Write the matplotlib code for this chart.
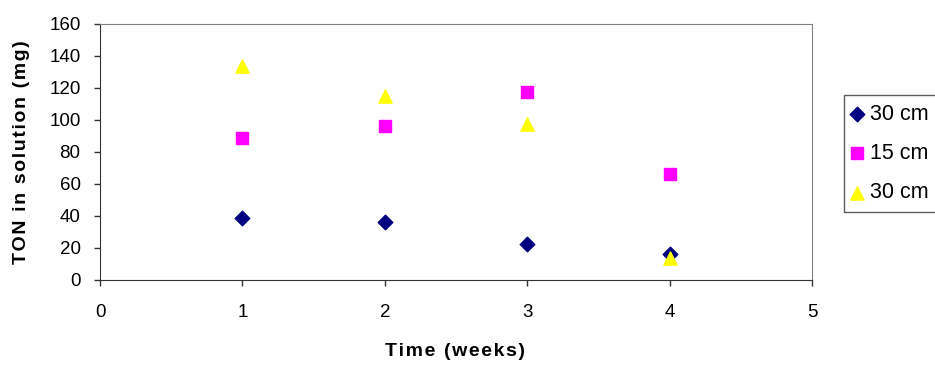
import matplotlib
matplotlib.use('Agg')
import matplotlib.pyplot as plt

plt.rcParams['font.family'] = ['Liberation Sans', 'DejaVu Sans']

#=====Data=====
weeks = [1, 2, 3, 4]
depth_30a = [39, 36, 22.5, 16]
depth_15 = [89, 96, 117.5, 66]
depth_30b = [133.5, 115, 97.5, 13.5]
labels = ['30 cm', '15 cm', '30 cm']

def spaced(s):
    # Excel-style letter spacing for axis titles
    return '\u200a'.join(s)

#=====Figure=====
fig = plt.figure(figsize=(9.35, 3.65), dpi=100)
ax = fig.add_axes([100/935, 1-280/365, 712/935, 256/365])

ax.scatter(weeks, depth_30a, marker='D', s=55, c='#000080', label=labels[0], zorder=3)
ax.scatter(weeks, depth_15, marker='s', s=75, c='#FF00FF', label=labels[1], zorder=3)
ax.scatter(weeks, depth_30b, marker='^', s=90, c='#FFFF00', label=labels[2], zorder=4)

ax.set_xlim(0, 5)
ax.set_ylim(0, 160)
ax.set_xticks(range(0, 6))
ax.set_yticks(range(0, 161, 20))
ax.tick_params(direction='out', length=4, width=1, labelsize=13.5, color='#333333')
ax.tick_params(axis='x', pad=13)
ax.tick_params(axis='y', pad=10)

for s in ['top', 'right']:
    ax.spines[s].set_color('#808080')
for s in ['left', 'bottom']:
    ax.spines[s].set_color('#333333')

ax.set_xlabel(spaced('Time (weeks)'), fontsize=14, fontweight='bold')
ax.set_ylabel(spaced('TON in solution (mg)'), fontsize=14, fontweight='bold')
ax.xaxis.set_label_coords((455-100)/712, -(352-280)/256)
ax.yaxis.set_label_coords(-(100-22)/712, 0.5)
ax.xaxis.label.set_va('center')
ax.yaxis.label.set_va('center')

leg = fig.legend(loc='upper left', bbox_to_anchor=(844/935, 1-95/365), fontsize=15.5,
                 frameon=True, fancybox=False, edgecolor='#333333', handletextpad=0.4,
                 borderpad=0.4, labelspacing=0.85, handlelength=0.4, borderaxespad=0)
leg.get_frame().set_linewidth(1)

fig.savefig('out.png', dpi=100)
